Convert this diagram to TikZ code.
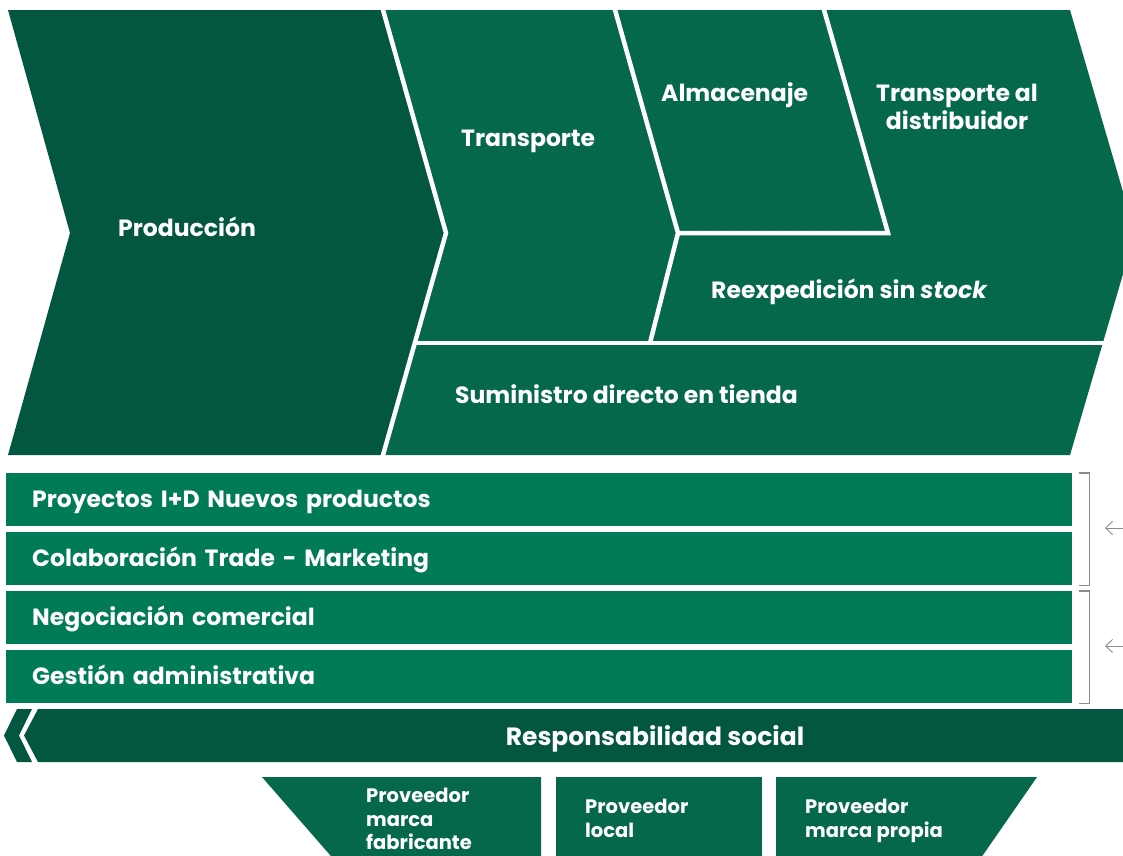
\documentclass[tikz,border=0pt]{standalone}
\usepackage{fontspec}
\setmainfont{Poppins}
\usetikzlibrary{arrows.meta}
\definecolor{gdark}{RGB}{3,86,64}
\definecolor{gmid}{RGB}{5,104,74}
\definecolor{grow}{RGB}{0,122,87}
\definecolor{bgray}{RGB}{140,140,140}
\tikzset{
    lbl/.style={text=white, inner sep=0pt, text height=16.5pt, text depth=0pt,
        font=\fontsize{23.5}{28}\selectfont\bfseries},
    lbltwo/.style={text=white, inner sep=0pt, align=center, font=\fontsize{23.5}{28}\selectfont\bfseries},
    smalllbl/.style={text=white, inner sep=0pt, align=left, font=\fontsize{19.5}{23.5}\selectfont\bfseries},
    rowbar/.style={fill=grow, anchor=north west, minimum height=53pt, inner xsep=26pt, inner ysep=0pt,
        text width=1014pt, align=left, text height=16.5pt, text depth=0pt,
        text=white, font=\fontsize{23.5}{28}\selectfont\bfseries},
    brace/.style={bgray, line width=1.3pt},
    backarrow/.style={bgray, line width=0.9pt, -{Straight Barb[length=2.4mm, width=4.6mm]}}
}
\newcommand{\gapline}{\draw[white, line width=4.5pt, line join=miter]}

\begin{document}
\begin{tikzpicture}[x=1pt, y=-1pt]
    \useasboundingbox (0,0) rectangle (1123,855);
    \clip (0,0) rectangle (1123,855);

    % Cadena logistica
    \fill[gdark] (8,10) -- (383,10) -- (446,233) -- (383,455) -- (8,455) -- (70,233) -- cycle;
    \fill[gmid] (383,10) -- (1070,10) -- (1135,233) -- (1070,455) -- (383,455) -- (446,233) -- cycle;
    \gapline (380.2,0) -- (446,233) -- (380.2,465);
    \gapline (612.2,0) -- (678,233) -- (650,343);
    \gapline (678,233) -- (888,233) -- (821.2,0);
    \gapline (415,343) -- (1115,343);

    \node[lbl, anchor=west] (prod) at (118,228) {Producción};
    \node[lbl, anchor=west] (transp) at (461,138) {Transporte};
    \node[lbl, anchor=west] (almac) at (661,93) {Almacenaje};
    \node[lbltwo] (tdist) at (957,107) {Transporte al\\distribuidor};
    \node[lbl, anchor=west] (reexp) at (711,290) {Reexpedición sin \textit{stock}};
    \node[lbl, anchor=west] (sumin) at (455,395) {Suministro directo en tienda};

    % Areas de gestion
    \node[rowbar] (r1) at (6,473) {Proyectos I+D Nuevos productos};
    \node[rowbar] (r2) at (6,532) {Colaboración Trade - Marketing};
    \node[rowbar] (r3) at (6,591) {Negociación comercial};
    \node[rowbar] (r4) at (6,650) {Gestión administrativa};

    \draw[brace] ([xshift=7pt]r1.north east) -- ++(10,0) |- ([xshift=7pt]r2.south east);
    \draw[brace] ([xshift=7pt]r3.north east) -- ++(10,0) |- ([xshift=7pt]r4.south east);

    \coordinate (a1) at (1125,528);
    \coordinate (b1) at (1105,528);
    \coordinate (a2) at (1125,646);
    \coordinate (b2) at (1105,646);
    \draw[backarrow] (a1) -- (b1);
    \draw[backarrow] (a2) -- (b2);

    % Responsabilidad social
    \fill[gdark] (17,709) -- (32,709) -- (19,735.5) -- (32,762) -- (17,762) -- (4,735.5) -- cycle;
    \fill[gdark] (38,709) -- (1130,709) -- (1130,762) -- (38,762) -- (24,735.5) -- cycle;
    \node[lbl, font=\fontsize{25}{30}\selectfont\bfseries, text height=17.5pt] (resp) at (655,737) {Responsabilidad social};

    % Proveedores
    \fill[gmid] (262,777) -- (541,777) -- (541,860) -- (334.4,860) -- cycle;
    \fill[gmid] (556,777) rectangle (762,860);
    \fill[gmid] (776,777) -- (1037,777) -- (979.5,860) -- (776,860) -- cycle;
    \node[smalllbl, anchor=north west] (prov1) at (366,788) {Proveedor\\marca\\fabricante};
    \node[smalllbl, anchor=north west] (prov2) at (585,799) {Proveedor\\local};
    \node[smalllbl, anchor=north west] (prov3) at (805,799) {Proveedor\\marca propia};
\end{tikzpicture}
\end{document}
